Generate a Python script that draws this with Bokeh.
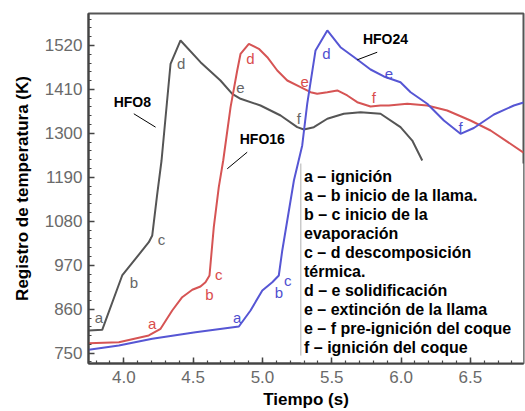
from bokeh.plotting import figure
from bokeh.models import Range1d, FixedTicker, NumeralTickFormatter, ColumnDataSource
from bokeh.core.properties import value
from bokeh.embed import file_html
from bokeh.resources import INLINE

# ---- data (time s, temperature K) ----
hfo8_t = [3.747, 3.844, 3.988, 4.180, 4.205, 4.241, 4.272, 4.337, 4.409, 4.553, 4.697, 4.782,
          4.842, 4.986, 5.131, 5.251, 5.299, 5.371, 5.468, 5.587, 5.708, 5.852, 5.996, 6.081, 6.153]
hfo8_T = [806.8, 808.5, 944.4, 1027.7, 1044.5, 1148.8, 1232.1, 1474.1, 1532.4, 1478.1, 1432.3, 1399,
          1386.5, 1369.7, 1344.7, 1315.5, 1309.7, 1315.5, 1336.5, 1349, 1353, 1349, 1315.5, 1282, 1232]

hfo16_t = [3.747, 3.964, 4.180, 4.265, 4.349, 4.421, 4.494, 4.553, 4.589, 4.618, 4.649, 4.685, 4.717,
           4.770, 4.818, 4.842, 4.902, 4.974, 5.035, 5.107, 5.179, 5.275, 5.347, 5.395, 5.468, 5.540,
           5.612, 5.684, 5.780, 5.852, 5.912, 6.045, 6.189, 6.333, 6.501, 6.646, 6.884]
hfo16_T = [775, 777.5, 794.3, 811, 856.8, 890.1, 908.6, 916.9, 927.6, 944.4, 1065.3, 1165.3, 1232.1,
           1365.5, 1457.3, 1499.1, 1524.1, 1511.6, 1490.6, 1457.3, 1432.3, 1415.5, 1403, 1399, 1403, 1407.3,
           1394.8, 1378, 1367.3, 1369.7, 1369.7, 1374, 1369.7, 1357.2, 1332.2, 1307.2, 1252]

hfo24_t = [3.747, 3.964, 4.205, 4.517, 4.830, 4.914, 4.999, 5.071, 5.118, 5.143, 5.227, 5.287, 5.323,
           5.383, 5.468, 5.563, 5.684, 5.780, 5.876, 5.996, 6.069, 6.189, 6.309, 6.429, 6.525, 6.670,
           6.814, 6.884]
hfo24_T = [758.5, 769.3, 786, 802.5, 816.8, 856.8, 906.9, 927.6, 944.4, 1007, 1182.1, 1269.7, 1374,
           1507.4, 1557.4, 1515.6, 1484.8, 1459.8, 1442.3, 1428, 1403, 1374, 1332.2, 1298.9, 1313.5, 1347.2,
           1369.7, 1377.3]

# stage letters on each curve
letters = ["a", "b", "c", "d", "e", "f"]
hfo8_lt = [3.820, 4.072, 4.272, 4.414, 4.842, 5.263]
hfo8_lT = [840, 927.6, 1033.7, 1474, 1414, 1336.5]
hfo16_lt = [4.205, 4.618, 4.685, 4.914, 5.304, 5.804]
hfo16_lT = [823.6, 896.9, 947, 1486.6, 1428, 1390.5]
hfo24_lt = [4.818, 5.118, 5.183, 5.462, 5.912, 6.429]
hfo24_lT = [840, 902.6, 931.9, 1499, 1449, 1315.5]

# series names and pointer lines
names = ["HFO8", "HFO16", "HFO24"]
names_t = [4.061, 4.999, 5.888]
names_T = [1378, 1286.4, 1536.6]
ptr_t0 = [4.072, 4.890, 5.828]
ptr_T0 = [1349, 1252.9, 1503]
ptr_t1 = [4.229, 4.746, 5.684]
ptr_T1 = [1315.5, 1211.4, 1484]

legend_lines = ["a \u2013 ignición", "a \u2013 b inicio de la llama.", "b \u2013 c inicio de la",
                "evaporación", "c \u2013 d descomposición", "térmica.", "d \u2013 e solidificación",
                "e \u2013 extinción de la llama", "e \u2013 f pre-ignición del coque",
                "f \u2013 ignición del coque"]
legend_T = [1192.1, 1144.6, 1097.1, 1049.5, 1002, 954.4, 906.9, 859.4, 811.8, 764.3]

x_ticks = [4.0, 4.5, 5.0, 5.5, 6.0, 6.5]
y_ticks = [750, 860, 970, 1080, 1190, 1300, 1410, 1520]

FONT = "Liberation Sans"
C8, C16, C24 = "#555555", "#d65454", "#5656d4"
X_MIN, X_MAX = 3.745, 6.8835
Y_MIN, Y_MAX = 724.2, 1599.9

p = figure(width=525, height=411, output_backend="svg", toolbar_location=None,
           x_range=Range1d(X_MIN, X_MAX), y_range=Range1d(Y_MIN, Y_MAX),
           min_border_left=88, min_border_right=2, min_border_top=13, min_border_bottom=48)
p.grid.visible = False
p.background_fill_color = "white"
p.outline_line_color = "#555555"
p.outline_line_width = 2

for ax in (p.xaxis[0], p.yaxis[0]):
    ax.axis_line_color = "#444444"
    ax.axis_line_width = 2
    ax.major_tick_in = 6
    ax.major_tick_out = 0
    ax.minor_tick_in = 3
    ax.minor_tick_out = 0
    ax.major_tick_line_color = "#444444"
    ax.minor_tick_line_color = "#444444"
    ax.major_tick_line_width = 1.5
    ax.minor_tick_line_width = 1.2
    ax.major_label_text_font = FONT
    ax.major_label_text_font_size = "17px"
    ax.major_label_text_color = "#6a6a6a"
    ax.axis_label_text_font = FONT
    ax.axis_label_text_font_size = "17px"
    ax.axis_label_text_font_style = "bold"
    ax.axis_label_text_color = "black"

p.xaxis.ticker = FixedTicker(ticks=x_ticks, minor_ticks=[round(3.8 + 0.1 * i, 1) for i in range(31)])
p.yaxis.ticker = FixedTicker(ticks=y_ticks, minor_ticks=[728 + 22 * i for i in range(41)])
p.xaxis.formatter = NumeralTickFormatter(format="0.0")
p.yaxis.formatter = NumeralTickFormatter(format="0")
p.xaxis.major_label_standoff = 7
p.yaxis.major_label_standoff = 6

p.yaxis.axis_label = "Registro de temperatura (K)"
p.yaxis.axis_label_standoff = 10
p.xaxis.axis_label = "Tiempo (s)"
p.xaxis.axis_label_standoff = 4

# curves
p.line(hfo8_t, hfo8_T, line_color=C8, line_width=2)
p.line(hfo16_t, hfo16_T, line_color=C16, line_width=2)
p.line(hfo24_t, hfo24_T, line_color=C24, line_width=2)

for lt, lT, col in ((hfo8_lt, hfo8_lT, "#666666"), (hfo16_lt, hfo16_lT, "#d94c4c"),
                    (hfo24_lt, hfo24_lT, "#4f4fd0")):
    src = ColumnDataSource(dict(x=lt, y=lT, t=letters))
    p.text(x="x", y="y", text="t", source=src, text_color=col, text_font=value(FONT),
           text_font_size="15px", text_align="center", text_baseline="middle")

# series names and pointers
p.text(x=names_t, y=names_T, text=names, text_color="black", text_font=value(FONT),
       text_font_size="14px", text_font_style="bold", text_align="center", text_baseline="middle")
p.segment(x0=ptr_t0, y0=ptr_T0, x1=ptr_t1, y1=ptr_T1, line_color="black", line_width=1)

# legend box
p.quad(left=[5.277], right=[X_MAX], top=[1224.6], bottom=[Y_MIN], fill_color="white",
       line_color=None)
p.segment(x0=[5.277], y0=[1224.6], x1=[5.277], y1=[744], line_color="#b0b0b0", line_width=1)
p.text(x=[5.30] * len(legend_lines), y=legend_T, text=legend_lines, text_color="black",
       text_font=value(FONT), text_font_size="16px", text_font_style="bold",
       text_align="left", text_baseline="middle")

open("out.html", "w").write(file_html(p, INLINE))
